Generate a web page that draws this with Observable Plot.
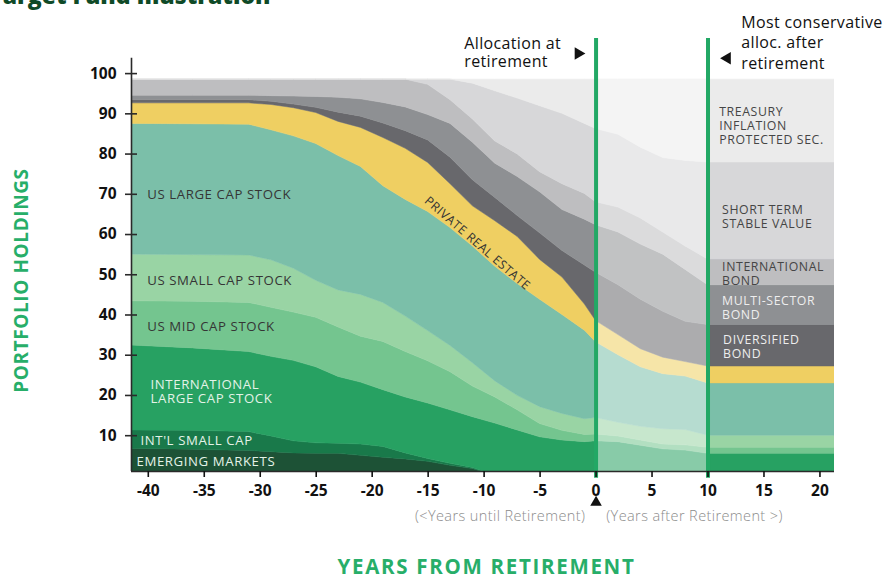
<!DOCTYPE html>
<html><head><meta charset="utf-8">
<script src="https://cdn.jsdelivr.net/npm/d3@7"></script>
<script src="https://cdn.jsdelivr.net/npm/@observablehq/plot@0.6"></script>
<style>
body{margin:0;background:#fff;overflow:hidden;}
#chart svg{display:block;}
</style></head><body><div id="chart"></div>
<script>
// Years from retirement (x) and allocation (% of portfolio) per asset class
const years = [-41.5, -36, -31, -29, -27, -25, -23, -21, -19, -17, -15, -13, -11, -9, -7, -5, -3, -1, 0, 2, 4, 6, 8, 10, 21.3];
const emerging    = [6.7, 6.5, 6.2, 5.9, 5.6, 5.5, 5.5, 5.0, 4.5, 4.1, 3.5, 2.5, 1.7, 0, 0, 0, 0, 0, 0, 0, 0, 0, 0, 0, 0];
const intlSmall   = [4.6, 4.7, 4.7, 3.9, 3.0, 2.6, 2.5, 2.8, 2.7, 1.5, 0.7, 0.5, 0.3, 0, 0, 0, 0, 0, 0, 0, 0, 0, 0, 0, 0];
const intlLarge   = [21.1, 20.5, 19.9, 19.8, 20.0, 18.9, 16.6, 15.4, 14.1, 13.9, 13.8, 13.3, 12.6, 13.0, 11.3, 9.6, 8.8, 8.4, 8.6, 8.4, 7.5, 6.6, 6.3, 5.5, 5.5];
const usMid       = [11.0, 11.6, 12.2, 12.2, 12.0, 12.3, 12.3, 11.4, 12.0, 11.3, 10.5, 9.5, 7.6, 6.5, 5.0, 3.3, 2.4, 1.8, 1.7, 1.4, 1.3, 1.2, 1.3, 1.5, 1.5];
const usSmall     = [11.6, 11.6, 11.8, 11.8, 10.9, 9.2, 9.2, 10.4, 9.7, 8.8, 7.5, 6.5, 5.8, 4.0, 3.6, 4.2, 4.2, 3.9, 4.1, 3.4, 3.4, 3.8, 3.8, 3.0, 3.0];
const usLarge     = [32.5, 32.5, 32.5, 32.3, 32.9, 34.0, 33.4, 31.8, 29.0, 29.0, 29.6, 29.3, 29.0, 28.5, 27.8, 26.7, 24.6, 22.0, 18.8, 16.8, 14.8, 13.7, 13.3, 13.0, 13.0];
const realEstate  = [5.1, 5.2, 5.3, 6.3, 7.0, 7.7, 8.5, 9.7, 12.0, 12.7, 12.2, 10.9, 10.0, 11.3, 11.7, 9.9, 9.3, 6.5, 5.3, 5.0, 4.5, 4.1, 3.6, 4.2, 4.2];
const diversified = [0.8, 0.8, 0.8, 0.8, 0.9, 1.3, 2.3, 2.8, 3.6, 4.4, 5.6, 6.6, 6.5, 5.8, 5.2, 6.6, 6.6, 9.7, 12.0, 12.4, 12.3, 11.4, 10.0, 10.3, 10.3];
const multiSector = [1.1, 1.1, 1.1, 1.4, 2.0, 2.7, 3.7, 4.3, 5.1, 5.9, 6.3, 8.4, 9.3, 8.5, 9.7, 10.2, 10.2, 11.4, 11.8, 13.1, 13.7, 14.2, 12.9, 9.9, 9.9];
const intlBond    = [4.0, 4.0, 4.0, 4.1, 4.2, 4.3, 4.5, 4.9, 5.8, 6.9, 7.5, 5.9, 5.8, 5.5, 5.6, 5.0, 6.4, 6.4, 5.7, 6.2, 6.5, 5.5, 5.8, 6.4, 6.4];
const shortTerm   = [0, 0, 0, 0, 0, 0, 0, 0, 0, 0, 1.3, 5.1, 8.9, 12.5, 13.9, 16.4, 17.5, 17.4, 18.2, 18.1, 17.6, 18.5, 21.3, 24.1, 24.1];
const tips        = [0, 0, 0, 0, 0, 0, 0, 0, 0, 0, 0, 0, 1.0, 2.9, 4.7, 6.6, 8.5, 11.0, 12.3, 13.7, 16.9, 19.5, 20.2, 20.6, 20.6];

const seriesNames = ["Emerging Markets", "Int'l Small Cap", "International Large Cap Stock", "US Mid Cap Stock",
  "US Small Cap Stock", "US Large Cap Stock", "Private Real Estate", "Diversified Bond", "Multi-Sector Bond",
  "International Bond", "Short Term Stable Value", "Treasury Inflation Protected Sec."];
const seriesValues = [emerging, intlSmall, intlLarge, usMid, usSmall, usLarge, realEstate, diversified, multiSector, intlBond, shortTerm, tips];
const seriesColors = ["#1d5236", "#19794a", "#27a162", "#74c58f", "#99d4a4", "#7bbfa9", "#efcf62",
  "#68686c", "#8e9093", "#bebec0", "#d7d7d9", "#ebebeb"];

const xTicks = [-40, -35, -30, -25, -20, -15, -10, -5, 0, 5, 10, 15, 20];
const yTicks = [10, 20, 30, 40, 50, 60, 70, 80, 90, 100];
const RETIREMENT = 0, CONSERVATIVE = 10;

// in-chart labels (anchor positions in data units)
const areaLabels = [
  {text: "US LARGE CAP STOCK", x: -40.1, y: 70.0, tone: "dark"},
  {text: "US SMALL CAP STOCK", x: -40.1, y: 48.6, tone: "dark"},
  {text: "US MID CAP STOCK", x: -40.1, y: 37.1, tone: "dark"},
  {text: "INTERNATIONAL\nLARGE CAP STOCK", x: -39.8, y: 21.0, tone: "light"},
  {text: "INT'L SMALL CAP", x: -40.7, y: 8.8, tone: "light"},
  {text: "EMERGING MARKETS", x: -41.05, y: 3.6, tone: "light"}
];
const rightLabels = [
  {text: "TREASURY\nINFLATION\nPROTECTED SEC.", x: 11.0, y: 87.1, tone: "dark"},
  {text: "SHORT TERM\nSTABLE VALUE", x: 11.26, y: 64.5, tone: "dark"},
  {text: "INTERNATIONAL\nBOND", x: 11.26, y: 50.3, tone: "dark"},
  {text: "MULTI-SECTOR\nBOND", x: 11.26, y: 41.9, tone: "light"},
  {text: "DIVERSIFIED\nBOND", x: 11.35, y: 32.2, tone: "light"}
];

const table = years.flatMap((yr, i) => seriesNames.map((s, k) => ({year: yr, series: s, value: seriesValues[k][i]})));
const TOTAL = d3.sum(seriesValues, v => v[0]);
const X_DOMAIN = [-41.5, 21.3];
const Y_BASE = 1.1;
const GREEN = "#27ae69";

const chart = Plot.plot({
  width: 886, height: 577,
  marginLeft: 131, marginRight: 52, marginTop: 73.1, marginBottom: 106,
  x: {domain: X_DOMAIN, axis: null},
  y: {domain: [Y_BASE, 100], axis: null},
  color: {domain: seriesNames, range: seriesColors},
  style: {fontFamily: "'Open Sans', sans-serif", background: "#fff", overflow: "visible"},
  marks: [
    Plot.areaY(table, {x: "year", y: "value", fill: "series", stroke: "series", strokeWidth: 0.5, order: seriesNames, clip: true}),
    // lighter band between retirement and most conservative allocation
    Plot.rect([TOTAL], {x1: RETIREMENT, x2: CONSERVATIVE, y1: Y_BASE, y2: d => d, fill: "white", fillOpacity: 0.45}),
    // labels
    Plot.text(areaLabels.filter(d => d.tone === "dark"), {x: "x", y: "y", text: "text", textAnchor: "start", fontSize: 13.2, fill: "#353535", lineHeight: 1.08}),
    Plot.text(areaLabels.filter(d => d.tone === "light"), {x: "x", y: "y", text: "text", textAnchor: "start", fontSize: 13.2, fill: "#e4f3e8", lineHeight: 1.08}),
    Plot.text(rightLabels.filter(d => d.tone === "dark"), {x: "x", y: "y", text: "text", textAnchor: "start", fontSize: 12.3, fill: "#454545", lineHeight: 1.14}),
    Plot.text(rightLabels.filter(d => d.tone === "light"), {x: "x", y: "y", text: "text", textAnchor: "start", fontSize: 12.3, fill: "#eeeeee", lineHeight: 1.14}),
    Plot.text(["PRIVATE REAL ESTATE"], {x: -10.6, y: 57.8, text: d => d, rotate: 41, fontSize: 12.3, fill: "#333"}),
    // milestone lines
    Plot.ruleX([RETIREMENT, CONSERVATIVE], {y1: -0.6, y2: 108.7, stroke: "#22a865", strokeWidth: 4}),
    // axes
    Plot.ruleY([Y_BASE], {x1: X_DOMAIN[0], x2: X_DOMAIN[1], stroke: "#2a2a2a", strokeWidth: 1.6}),
    Plot.ruleX([X_DOMAIN[0]], {y1: Y_BASE, y2: 103.8, stroke: "#2a2a2a", strokeWidth: 1.6}),
    Plot.ruleY(yTicks, {x1: X_DOMAIN[0], x2: X_DOMAIN[0], insetLeft: -6, insetRight: -6, stroke: "#2a2a2a", strokeWidth: 1.6}),
    Plot.text(yTicks, {x: X_DOMAIN[0], y: d => d, text: d => String(d), textAnchor: "end", dx: -15, fontSize: 15.5, fontWeight: 700, fill: "#111"}),
    Plot.axisX(xTicks, {tickSize: 6, tickPadding: 7, fontSize: 15.5, fontWeight: 700, tickFormat: d => String(d), color: "#111", strokeWidth: 1.6}),
    // annotations
    Plot.text(["Allocation at\nretirement"], {x: -11.77, y: 105.2, text: d => d, textAnchor: "start", fontSize: 16, fill: "#111", lineHeight: 1.12}),
    Plot.text(["Most conservative\nalloc. after\nretirement"], {x: 12.97, y: 107.9, text: d => d, textAnchor: "start", fontSize: 16, fill: "#111", lineHeight: 1.28}),
    Plot.dot([-1.59], {x: d => d, y: 105.0, symbol: "triangle", rotate: 90, r: 4.6, fill: "#111"}),
    Plot.dot([11.72], {x: d => d, y: 103.8, symbol: "triangle", rotate: -90, r: 4.6, fill: "#111"}),
    Plot.dot([RETIREMENT], {x: d => d, y: -6.6, symbol: "triangle", r: 4.3, fill: "#111"}),
    Plot.text(["(<Years until Retirement)"], {x: -0.96, y: -10.1, text: d => d, textAnchor: "end", fontSize: 14.5, fontWeight: 300, fill: "#8c8c8c"}),
    Plot.text(["(Years after Retirement >)"], {x: 0.91, y: -10.1, text: d => d, textAnchor: "start", fontSize: 14.5, fontWeight: 300, fill: "#8c8c8c"}),
    // titles
    Plot.text(["PORTFOLIO HOLDINGS"], {frameAnchor: "left", textAnchor: "middle", lineAnchor: "middle", rotate: -90, dx: -110, dy: 8, fontSize: 19, fontWeight: 700, fill: GREEN}),
    Plot.text(["YEARS FROM RETIREMENT"], {frameAnchor: "bottom", lineAnchor: "middle", dx: 3.5, dy: 96, fontSize: 20.5, fontWeight: 700, fill: GREEN}),
    Plot.text(["Target Fund Illustration"], {frameAnchor: "top-left", dx: 139, dy: -86, textAnchor: "end", fontSize: 23, fontWeight: 800, fill: "#0f4a27"})
  ]
});

// letter spacing to mimic the wider typeface of the original
const spacing = [
  [t => t === "YEARS FROM RETIREMENT", "1.7px"],
  [t => t === "PORTFOLIO HOLDINGS", "0.6px"],
  [t => t.startsWith("Allocation") || t.startsWith("Most conservative"), "0.35px"],
  [t => t.startsWith("(<Years") || t.startsWith("(Years"), "0.4px"],
  [t => /^[A-Z' .\-]+$/.test(t) && t.length > 6, "0.6px"]
];
d3.select(chart).selectAll("text").each(function() {
  const t = this.textContent;
  for (const [test, ls] of spacing) { if (test(t)) { this.style.letterSpacing = ls; break; } }
});
document.getElementById("chart").appendChild(chart);
</script></body></html>
